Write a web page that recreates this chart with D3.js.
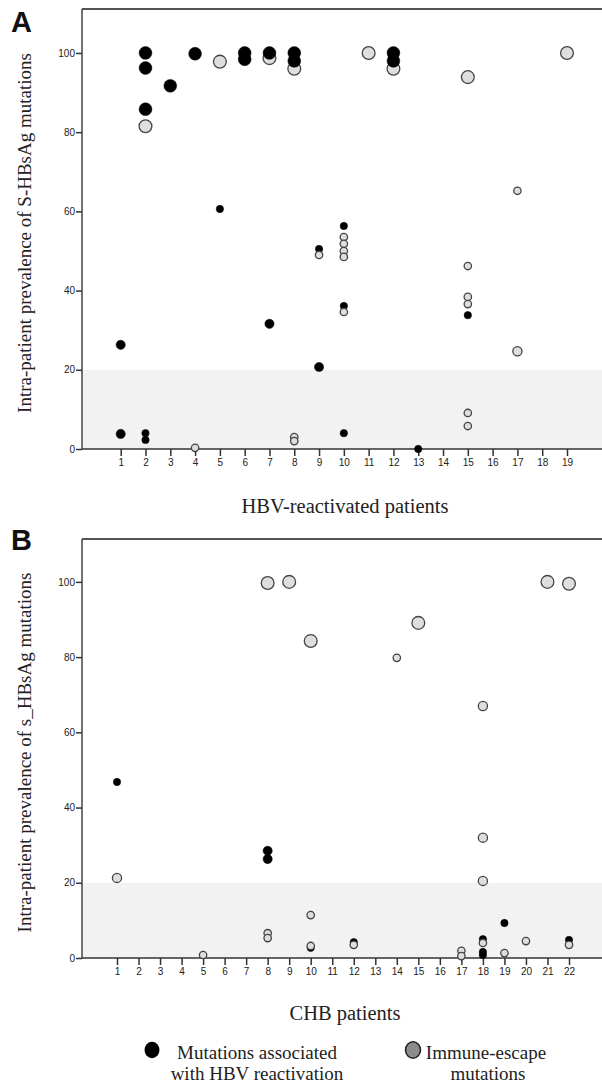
<!DOCTYPE html>
<html>
<head>
<meta charset="utf-8">
<script src="https://cdn.jsdelivr.net/npm/d3@7"></script>
<style>
  body { margin: 0; background: #fff; }
  .tick text { font-family: Arial, "Liberation Sans", sans-serif; font-size: 10px; fill: #222; }
  .tick line { stroke: #333; stroke-width: 1.5; }
  .domain { display: none; }
</style>
</head>
<body>
<div id="chart"></div>
<script>
// Panel A : HBV-reactivated patients
const patientsA = [1, 1, 2, 2, 2, 2, 2, 2, 3, 4, 4, 5, 5, 6, 6, 7, 7, 7, 8, 8, 8, 8, 8,
  9, 9, 9, 10, 10, 10, 10, 10, 10, 10, 10, 11, 12, 12, 12, 13,
  15, 15, 15, 15, 15, 15, 15, 17, 17, 19];
const valuesA = [26.3, 3.8, 100, 96.2, 85.8, 81.5, 4.0, 2.3, 91.7, 99.8, 0.3, 97.8, 60.6, 100, 98.4, 98.7, 100, 31.6, 96, 100, 98, 3.0, 2.0,
  50.5, 49, 20.7, 56.3, 53.5, 51.8, 50.0, 48.5, 36.1, 34.6, 4.0, 100, 96, 100, 98, 0,
  93.9, 46.2, 38.4, 36.6, 33.8, 9.1, 5.8, 65.2, 24.7, 100];
// R = associated with HBV reactivation, E = immune-escape
const kindA = ["R", "R", "R", "R", "R", "E", "R", "R", "R", "R", "E", "E", "R", "R", "R", "E", "R", "R", "E", "R", "R", "E", "E",
  "R", "E", "R", "R", "E", "E", "E", "E", "R", "E", "R", "E", "E", "R", "R", "R",
  "E", "E", "E", "E", "R", "E", "E", "E", "E", "E"];
const weightA = ["M", "M", "L", "L", "L", "L", "S", "S", "L", "L", "S", "L", "S", "L", "L", "L", "L", "M", "L", "L", "L", "S", "S",
  "S", "S", "M", "S", "S", "S", "S", "S", "S", "S", "S", "L", "L", "L", "L", "S",
  "L", "S", "S", "S", "S", "S", "S", "S", "M", "L"];
const ticksA = d3.range(1, 20);

// Panel B : CHB patients
const patientsB = [1, 1, 5, 8, 8, 8, 8, 8, 9, 10, 10, 10, 10, 12, 12, 14, 15, 17, 17,
  18, 18, 18, 18, 18, 18, 18, 19, 19, 20, 21, 22, 22, 22];
const valuesB = [46.8, 21.3, 0.8, 99.7, 28.5, 26.3, 6.6, 5.3, 100, 84.3, 11.4, 2.7, 3.2, 4.2, 3.5, 79.8, 89.1, 1.9, 0.5,
  67.0, 32.0, 20.5, 5.0, 4.0, 1.6, 0.8, 9.3, 1.3, 4.5, 100, 99.5, 4.8, 3.5];
const kindB = ["R", "E", "E", "E", "R", "R", "E", "E", "E", "E", "E", "R", "E", "R", "E", "E", "E", "E", "E",
  "E", "E", "E", "R", "E", "R", "R", "R", "E", "E", "E", "E", "R", "E"];
const weightB = ["S", "M", "S", "L", "M", "M", "S", "S", "L", "L", "S", "S", "S", "S", "S", "S", "L", "S", "S",
  "M", "M", "M", "S", "S", "S", "S", "S", "S", "S", "L", "L", "S", "S"];
const ticksB = d3.range(1, 23);

const yTicks = [0, 20, 40, 60, 80, 100];
const band = [0, 20];

const width = 602, height = 1085;

const svg = d3.select("#chart").append("svg")
  .attr("width", width)
  .attr("height", height);

const radius = d3.scaleOrdinal().domain(["L", "M", "S"]).range([6.4, 4.6, 3.7]);
const fill = d3.scaleOrdinal().domain(["R", "E"]).range(["#000", "#dedede"]);
const stroke = d3.scaleOrdinal().domain(["R", "E"]).range(["#000", "#444"]);

function panel(opt) {
  const g = svg.append("g");
  const left = 82, right = width;

  const y = d3.scaleLinear().domain([0, opt.yMax]).range([opt.bottom, opt.top]);
  const x = d3.scaleLinear().domain(opt.xDomain).range(opt.xRange);

  // shaded 0-20 band
  g.append("rect")
    .attr("x", left)
    .attr("y", y(band[1]))
    .attr("width", right - left)
    .attr("height", y(band[0]) - y(band[1]))
    .attr("fill", "#f2f2f2");

  // frame: top line + left + bottom
  g.append("line").attr("x1", left).attr("x2", right).attr("y1", opt.top).attr("y2", opt.top)
    .attr("stroke", "#555").attr("stroke-width", 2);
  g.append("line").attr("x1", left).attr("x2", left).attr("y1", opt.top).attr("y2", opt.bottom)
    .attr("stroke", "#444").attr("stroke-width", 1.5);
  g.append("line").attr("x1", left).attr("x2", right).attr("y1", opt.bottom).attr("y2", opt.bottom)
    .attr("stroke", "#333").attr("stroke-width", 1.5);

  g.append("g")
    .attr("transform", `translate(${left},0)`)
    .call(d3.axisLeft(y).tickValues(yTicks).tickSize(6).tickPadding(1));

  g.append("g")
    .attr("transform", `translate(0,${opt.bottom})`)
    .call(d3.axisBottom(x).tickValues(opt.ticks).tickSize(7).tickPadding(3));

  const pts = opt.patients.map((p, i) => ({
    p: p, v: opt.values[i], k: opt.kind[i], w: opt.weight[i]
  }));

  g.append("g")
    .selectAll("circle")
    .data(pts)
    .enter()
    .append("circle")
    .attr("cx", d => x(d.p))
    .attr("cy", d => y(d.v))
    .attr("r", d => radius(d.w))
    .attr("fill", d => fill(d.k))
    .attr("stroke", d => stroke(d.k))
    .attr("stroke-width", d => d.k === "E" ? 1.3 : 0.5);

  // letter
  g.append("text")
    .attr("x", 11)
    .attr("y", opt.letterY)
    .attr("font-family", "Arial, 'Liberation Sans', sans-serif")
    .attr("font-weight", "bold")
    .attr("font-size", 29)
    .attr("fill", "#111")
    .text(opt.letter);

  // y label
  g.append("text")
    .attr("transform", `translate(31,${(opt.top + opt.bottom) / 2 + 4}) rotate(-90)`)
    .attr("text-anchor", "middle")
    .attr("font-family", "'Liberation Serif', 'Times New Roman', serif")
    .attr("font-size", 19)
    .attr("fill", "#222")
    .text(opt.yLabel);

  // x label
  g.append("text")
    .attr("x", 345)
    .attr("y", opt.xLabelY)
    .attr("text-anchor", "middle")
    .attr("font-family", "'Liberation Serif', 'Times New Roman', serif")
    .attr("font-size", 20.5)
    .attr("fill", "#222")
    .text(opt.xLabel);
}

panel({
  top: 9, bottom: 449, yMax: 111.1,
  xDomain: [1, 19], xRange: [120.7, 567], ticks: ticksA,
  patients: patientsA, values: valuesA, kind: kindA, weight: weightA,
  letter: "A", letterY: 32,
  yLabel: "Intra-patient prevalence of S-HBsAg mutations",
  xLabel: "HBV-reactivated patients", xLabelY: 513
});

panel({
  top: 539, bottom: 958, yMax: 111.4,
  xDomain: [1, 22], xRange: [117, 569], ticks: ticksB,
  patients: patientsB, values: valuesB, kind: kindB, weight: weightB,
  letter: "B", letterY: 550,
  yLabel: "Intra-patient prevalence of s_HBsAg mutations",
  xLabel: "CHB patients", xLabelY: 1020
});

// legend
const legend = svg.append("g")
  .attr("font-family", "'Liberation Serif', 'Times New Roman', serif")
  .attr("font-size", 19)
  .attr("fill", "#222")
  .attr("text-anchor", "middle");

legend.append("ellipse").attr("cx", 152).attr("cy", 1050).attr("rx", 7.5).attr("ry", 8.3).attr("fill", "#000");
legend.append("text").attr("x", 257).attr("y", 1059).text("Mutations associated");
legend.append("text").attr("x", 257).attr("y", 1080).text("with HBV reactivation");

legend.append("ellipse").attr("cx", 413).attr("cy", 1050).attr("rx", 7.5).attr("ry", 8.3)
  .attr("fill", "#8c8c8c").attr("stroke", "#222").attr("stroke-width", 1.5);
legend.append("text").attr("x", 486).attr("y", 1059).text("Immune-escape");
legend.append("text").attr("x", 488).attr("y", 1080).text("mutations");
</script>
</body>
</html>
